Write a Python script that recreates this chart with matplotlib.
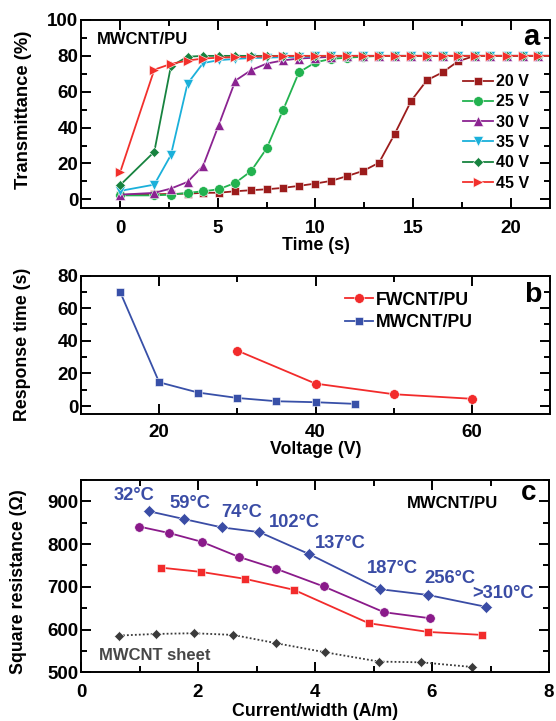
import matplotlib
matplotlib.use("Agg")
import matplotlib.pyplot as plt
from matplotlib.ticker import MultipleLocator

plt.rcParams['font.family'] = ['Liberation Sans', 'DejaVu Sans']
plt.rcParams['font.weight'] = 'bold'
plt.rcParams['axes.labelweight'] = 'bold'

# ---------------- Panel a data ----------------
time_s = [0, 1.75, 2.6, 3.45, 4.25, 5.05, 5.9, 6.7, 7.5, 8.35, 9.15, 10.0, 10.8,
          11.6, 12.45, 13.25, 14.05, 14.9, 15.7, 16.5, 17.3, 18.15, 18.95, 19.8,
          20.6, 21.4, 22.25]
t_20V = [2.5, 2.8, 3.0, 3.2, 3.6, 3.7, 4.5, 5.1, 5.6, 6.4, 7.5, 8.8, 10.3, 12.9,
         15.9, 20.4, 36.4, 55.0, 66.4, 70.8, 77.0, 80.0, 80.0, 80.0, 80.0, 80.0, 80.0]
t_25V = [2.2, 2.2, 2.6, 3.6, 4.5, 5.6, 9.2, 15.7, 28.4, 50.0, 70.8, 76.4, 78.3,
         79.0, 79.5, 80, 80, 80, 80, 80, 80, 80, 80, 80, 80, 80, 80]
t_30V = [2.6, 3.6, 6.0, 9.7, 18.7, 41.5, 66.2, 72.0, 75.7, 77.5, 78.5, 79.0, 79.5,
         80, 80, 80, 80, 80, 80, 80, 80, 80, 80, 80, 80, 80, 80]
t_35V = [4.7, 8.2, 24.7, 64.5, 76.0, 77.6, 78.3, 78.8, 79.0, 79.3, 79.5, 79.7, 80,
         80, 80, 80, 80, 80, 80, 80, 80, 80, 80, 80, 80, 80, 80]
t_40V = [7.9, 26.5, 74.2, 79.5, 80, 80, 80, 80, 80, 80, 80, 80, 80, 80, 80, 80,
         80, 80, 80, 80, 80, 80, 80, 80, 80, 80, 80]
t_45V = [15.0, 72.3, 75.5, 77.4, 78.5, 79.0, 79.3, 79.5, 79.7, 80, 80, 80, 80, 80,
         80, 80, 80, 80, 80, 80, 80, 80, 80, 80, 80, 80, 80]
series_a = [("20 V", t_20V, 's', '#9C1C1C', 5.8),
            ("25 V", t_25V, 'o', '#22B24F', 7.0),
            ("30 V", t_30V, '^', '#8B2391', 7.2),
            ("35 V", t_35V, 'v', '#1AB0DA', 7.2),
            ("40 V", t_40V, 'D', '#17833F', 5.6),
            ("45 V", t_45V, '>', '#F2302C', 7.5)]

# ---------------- Panel b data ----------------
volt_mw = [15, 20, 25, 30, 35, 40, 45]
resp_mw = [70, 14.6, 8.3, 5.0, 3.0, 2.4, 1.4]
volt_fw = [30, 40, 50, 60]
resp_fw = [34, 13.8, 7.3, 4.5]

# ---------------- Panel c data ----------------
cw_blue = [1.17, 1.76, 2.41, 3.05, 3.90, 5.11, 5.93, 6.93]
r_blue = [876.6, 858.6, 839, 828, 776.6, 694.5, 681, 653]
cw_purple = [0.995, 1.51, 2.06, 2.70, 3.34, 4.15, 5.18, 5.96]
r_purple = [841, 825.8, 805.5, 770, 742, 700.8, 640.6, 626.6]
cw_red = [1.36, 2.05, 2.80, 3.64, 4.92, 5.93, 6.85]
r_red = [745, 735, 718.8, 693, 614.8, 594.5, 587.5]
cw_sheet = [0.65, 1.29, 1.93, 2.60, 3.34, 4.17, 5.10, 5.81, 6.68]
r_sheet = [586, 589.8, 591.4, 587.5, 568, 546.9, 525, 523.4, 512.5]
temp_labels = ["32°C", "59°C", "74°C", "102°C", "137°C", "187°C", "256°C", ">310°C"]
temp_x = [0.915, 1.87, 2.75, 3.64, 4.44, 5.33, 6.31, 7.22]
temp_y = [903, 884, 863, 841, 792, 733, 710, 675]

W, H = 556, 721
fig = plt.figure(figsize=(W / 100, H / 100), dpi=100)

def px_axes(left, top, right, bottom):
    return fig.add_axes([left / W, 1 - bottom / H, (right - left) / W, (bottom - top) / H])

def style(ax, xpad):
    for s in ax.spines.values():
        s.set_linewidth(1.4)
    ax.tick_params(which='both', direction='in', top=True, right=True, width=1.4,
                   labelsize=13.5)
    ax.tick_params(axis='x', which='both', pad=xpad)
    ax.tick_params(axis='y', which='both', pad=2)
    ax.tick_params(which='major', length=7)
    ax.tick_params(which='minor', length=4)
    for lab in ax.get_xticklabels() + ax.get_yticklabels():
        lab.set_fontweight('bold')

def place_labels(ax, xl, yl, xy, yx, yy, fs_x=12.8, fs_y=12.8):
    ax.set_xlabel(xl, fontsize=fs_x, fontweight='bold')
    ax.set_ylabel(yl, fontsize=fs_y, fontweight='bold')
    ax.xaxis.label.set_va('center')
    ax.yaxis.label.set_va('center')
    ax.xaxis.set_label_coords(0.5, xy)
    ax.yaxis.set_label_coords(yx, yy)

# ---------- a ----------
ax1 = px_axes(81, 20, 550, 208.3)
for name, vals, mk, col, ms in series_a:
    ax1.plot(time_s, vals, marker=mk, color=col, lw=1.3, ms=ms, mec='white', mew=0.4,
             label=name)
ax1.set_xlim(-2, 22)
ax1.set_ylim(-5, 100)
ax1.xaxis.set_major_locator(MultipleLocator(5))
ax1.xaxis.set_minor_locator(MultipleLocator(2.5))
ax1.yaxis.set_major_locator(MultipleLocator(20))
ax1.yaxis.set_minor_locator(MultipleLocator(10))
style(ax1, 8.3)
place_labels(ax1, "Time (s)", "Transmittance (%)", -0.20, -0.123, 0.522, fs_y=13.2)
ax1.text(97.3 / 469 - 81 / 469, 0.871, "MWCNT/PU", transform=ax1.transAxes,
         fontsize=12, fontweight='bold', va='baseline', ha='left')
ax1.text(0.9595, 0.867, "a", transform=ax1.transAxes, fontsize=21,
         fontweight='bold', va='baseline', ha='center')
leg1 = ax1.legend(loc='upper right', bbox_to_anchor=(0.976, 0.763), frameon=False,
                  fontsize=11.5, handlelength=1.875, handletextpad=0.17,
                  labelspacing=0.33, borderaxespad=0.2)
for t in leg1.get_texts():
    t.set_fontweight('bold')

# ---------- b ----------
ax2 = px_axes(81, 275.5, 550, 414.3)
ax2.plot(volt_fw, resp_fw, marker='o', color='#F22B2B', lw=1.3, ms=7,
         mec='white', mew=0.4, label="FWCNT/PU")
ax2.plot(volt_mw, resp_mw, marker='s', color='#3850A8', lw=1.3, ms=6,
         mec='white', mew=0.4, label="MWCNT/PU")
ax2.set_xlim(10, 70)
ax2.set_ylim(-5, 80)
ax2.xaxis.set_major_locator(MultipleLocator(20))
ax2.xaxis.set_minor_locator(MultipleLocator(10))
ax2.yaxis.set_major_locator(MultipleLocator(20))
ax2.yaxis.set_minor_locator(MultipleLocator(10))
style(ax2, 7.2)
place_labels(ax2, "Voltage (V)", "Response time (s)", -0.256, -0.124, 0.505)
ax2.text(0.963, 0.808, "b", transform=ax2.transAxes, fontsize=20.5,
         fontweight='bold', va='baseline', ha='center')
leg2 = ax2.legend(loc='upper left', bbox_to_anchor=(0.5405, 0.96), frameon=False,
                  fontsize=12.7, handlelength=1.61, handletextpad=0.12,
                  labelspacing=0.3, borderaxespad=0.2)
for t in leg2.get_texts():
    t.set_fontweight('bold')

# ---------- c ----------
ax3 = px_axes(81, 480, 549, 672.3)
ax3.plot(cw_sheet, r_sheet, marker='D', color='#3A3A3A', lw=1.3, ls=(0, (1, 1.2)),
         ms=5.6, mec='white', mew=0.4)
ax3.plot(cw_red, r_red, marker='s', color='#F22B2B', lw=1.3, ms=6, mec='white', mew=0.4)
ax3.plot(cw_purple, r_purple, marker='o', color='#8A1A8A', lw=1.3, ms=6.8, mec='white', mew=0.4)
ax3.plot(cw_blue, r_blue, marker='D', color='#3A4CA5', lw=1.3, ms=6.0, mec='white', mew=0.4)
for lab, x, y in zip(temp_labels, temp_x, temp_y):
    ax3.text(x, y, lab, color='#3A4CA5', fontsize=13.2, fontweight='bold',
             ha='center', va='baseline')
ax3.text(1.253, 528.8, "MWCNT sheet", color='#474747', fontsize=12, fontweight='bold',
         ha='center', va='baseline')
ax3.text(0.7945, 0.853, "MWCNT/PU", transform=ax3.transAxes, fontsize=12,
         fontweight='bold', ha='center', va='baseline')
ax3.text(0.956, 0.896, "c", transform=ax3.transAxes, fontsize=20,
         fontweight='bold', va='baseline', ha='center')
ax3.set_xlim(0, 8)
ax3.set_ylim(500, 950)
ax3.xaxis.set_major_locator(MultipleLocator(2))
ax3.xaxis.set_minor_locator(MultipleLocator(1))
ax3.yaxis.set_major_locator(MultipleLocator(100))
ax3.yaxis.set_minor_locator(MultipleLocator(50))
style(ax3, 8.3)
place_labels(ax3, "Current/width (A/m)", "Square resistance (Ω)", -0.205, -0.134, 0.471)

fig.savefig("out.png", dpi=100)
